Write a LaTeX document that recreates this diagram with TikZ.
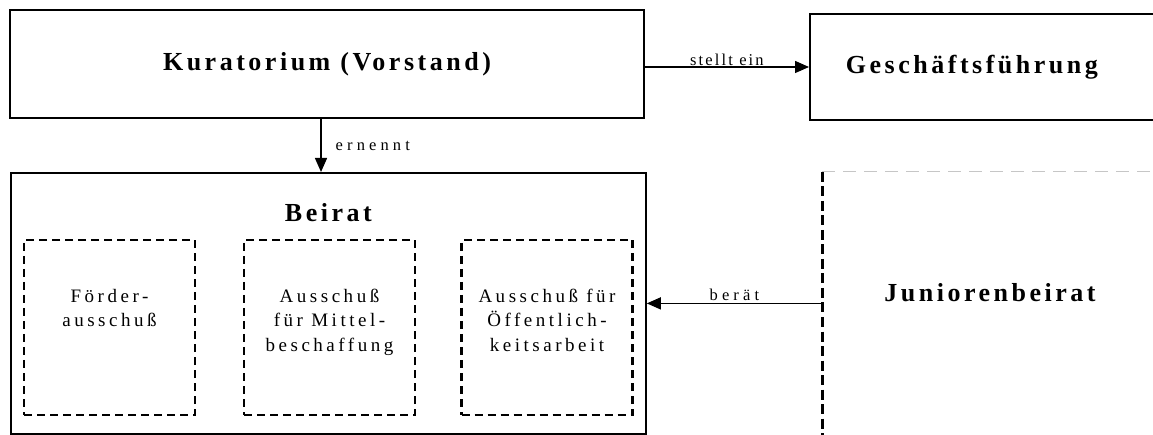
\documentclass[tikz,border=0pt]{standalone}
\usepackage{fontspec}
\setmainfont{Liberation Serif}
\newfontfamily\titlefont[LetterSpace=13.5]{Liberation Serif}
\newfontfamily\boxfont[LetterSpace=18.5]{Liberation Serif}
\newfontfamily\lblfont[LetterSpace=25]{Liberation Serif}
\newfontfamily\lblfontnarrow[LetterSpace=13]{Liberation Serif}
\usetikzlibrary{arrows.meta,positioning}

\begin{document}
\begin{tikzpicture}[x=1pt,y=-1pt,
  org/.style={draw,line width=1.8pt,rectangle,inner sep=0pt},
  sub/.style={draw,line width=2.4pt,dash pattern=on 8pt off 5pt,rectangle,inner sep=0pt,minimum width=171pt,minimum height=175pt},
  title/.style={inner sep=0pt,font={\titlefont\bfseries\fontsize{26}{30}\selectfont}},
  subtext/.style={inner sep=0pt,align=center,font={\boxfont\fontsize{19}{24.5}\selectfont}},
  lbl/.style={inner sep=2pt,font={\lblfont\fontsize{16.5}{18}\selectfont}},
  lblnarrow/.style={inner sep=1pt,font={\lblfontnarrow\fontsize{16.5}{18}\selectfont}},
  arr/.style={line width=1.4pt,-{Triangle[length=14pt,width=12pt]}},
  jbline/.style={line width=3pt,dash pattern=on 10pt off 4.5pt},
  grayline/.style={line width=1pt,gray!45,dash pattern=on 13pt off 8pt}]
\useasboundingbox (0,0) rectangle (1153,435);
\clip (0,0) rectangle (1153,435);
% top row
\node[org,title,minimum width=634pt,minimum height=108pt] (kur) at (327,64) {Kuratorium (Vorstand)};
\node[org,title,anchor=west,minimum height=106pt,text width=315pt,align=left,inner xsep=36pt] (gf) at (809,67) {Geschäftsführung};
% Beirat with its committees
\node[org,anchor=north west,minimum width=635pt,minimum height=261pt] (beirat) at (10,172) {};
\node[title,below=31pt of beirat.north] (beirattitle) {Beirat};
\foreach \i/\x/\txt in {1/109.5/{Förder-\\ausschuß},2/329.5/{Ausschuß\\für Mittel-\\beschaffung},3/547/{Ausschuß für\\Öffentlich-\\keitsarbeit}} {
   \node[sub] (aus\i) at (\x,327.5) {};
   \node[subtext,below=50pt of aus\i.north] (aus\i text) {\txt};
}
% Juniorenbeirat
\node[anchor=north west,inner sep=0pt,minimum width=340pt,minimum height=265pt] (jb) at (822,172) {};
\draw[jbline] (jb.north west) -- (jb.south west);
\draw[grayline] (jb.north west) -- (jb.north east);
\node[title] (jbtitle) at (990,293) {Juniorenbeirat};
% connectors
\coordinate (ern) at (321,0);
\draw[arr] (kur.east |- gf.west) -- node[above,lblnarrow] (stellt) {stellt ein} (gf.west);
\draw[arr] (kur.south -| ern) -- node[right=12pt,lbl] (ernennt) {ernennt} (beirat.north -| ern);
\draw[arr] (jb.west |- beirat.east) -- node[above,lbl] (beraet) {berät} (beirat.east);
\end{tikzpicture}
\end{document}
